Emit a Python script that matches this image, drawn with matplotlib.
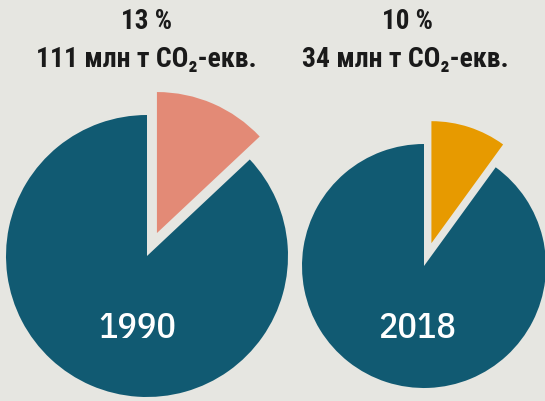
"""Two exploded pies: share of emissions, 1990 vs 2018."""

import matplotlib

matplotlib.use("Agg")
import matplotlib.pyplot as plt

# data
years = ["1990", "2018"]
shares = [13, 10]  # percent
amounts = ["111 млн т CO₂-екв.", "34 млн т CO₂-екв."]

BG = "#e6e6e1"
TEAL = "#115a72"
INK = "#1a1a1a"
SLICE_COLORS = ["#e38a76", "#e79a00"]
# pie layout in pixel space (y up): centre x, centre y, radius, explode offset
LAYOUT = [(147, 145, 141, 25), (424, 135, 122, 24)]
YEAR_X = [137, 417]
HEAD_X = [[147, 146], [407, 405]]
HEAD_FONT = ["Roboto Condensed", "DejaVu Sans"]
YEAR_FONT = ["IBM Plex Sans Condensed", "DejaVu Sans"]

fig = plt.figure(figsize=(5.45, 4.01), dpi=100, facecolor=BG)
ax = fig.add_axes([0, 0, 1, 1])
ax.set_facecolor(BG)

for i, (year, share, amount) in enumerate(zip(years, shares, amounts)):
    cx, cy, r, expl = LAYOUT[i]
    ax.pie(
        [share, 100 - share],
        colors=[SLICE_COLORS[i], TEAL],
        startangle=90,
        counterclock=False,
        explode=[expl, 0],
        radius=r,
        center=(cx, cy),
        wedgeprops={"linewidth": 0},
    )
    ax.text(YEAR_X[i], 63, year, color="white", fontsize=26, fontweight=500,
            ha="center", va="baseline", family=YEAR_FONT)
    ax.text(HEAD_X[i][0], 372, f"{share} %", fontsize=19.5, fontweight="bold",
            ha="center", va="baseline", color=INK, family=HEAD_FONT)
    ax.text(HEAD_X[i][1], 334, amount, fontsize=20, fontweight="bold",
            ha="center", va="baseline", color=INK, family=HEAD_FONT)

ax.set_xlim(0, 545)
ax.set_ylim(0, 401)
ax.set_aspect("equal")
ax.axis("off")

fig.savefig("out.png", dpi=100, facecolor=BG)
